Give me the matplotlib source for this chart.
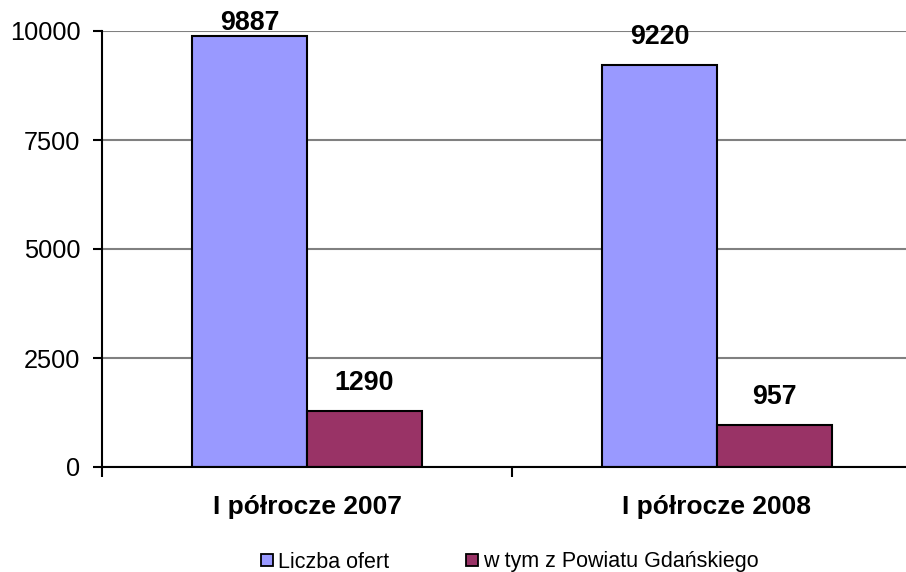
import matplotlib
matplotlib.use("Agg")
import matplotlib.pyplot as plt
from matplotlib.lines import Line2D
import numpy as np

categories = ["I półrocze 2007", "I półrocze 2008"]
series_names = ["Liczba ofert", "w tym z Powiatu Gdańskiego"]
liczba_ofert = [9887, 9220]
powiat = [1290, 957]
yticks = [0, 2500, 5000, 7500, 10000]
colors = ["#9999FF", "#993366"]

plt.rcParams['font.family'] = ['Liberation Sans', 'DejaVu Sans']

fig = plt.figure(figsize=(9.06, 5.72), dpi=100)
W, H = 906, 572
ax = fig.add_axes([102 / W, (H - 467) / H, 820 / W, 436 / H])

x = np.arange(len(categories))
bw = 0.28
for i, (vals, c) in enumerate(zip([liczba_ofert, powiat], colors)):
    pos = x + (i - 0.5) * bw
    ax.bar(pos, vals, width=bw, color=c, edgecolor="black", linewidth=1.5, zorder=3)
    for p, v in zip(pos, vals):
        ly = min(v + 640, 10183)
        ax.text(p, ly, f"{v}", ha="center", va="center", fontsize=19.3, fontweight="bold", zorder=4)

ax.set_xlim(-0.5, 1.5)
ax.set_ylim(0, 10000)
ax.set_yticks(yticks)
ax.set_yticklabels([str(t) for t in yticks])
ax.yaxis.grid(True, color="#808080", linewidth=1.5, zorder=0)
ax.set_axisbelow(True)

ax.set_xticks([-0.5, 0.5, 1.5])
ax.set_xticklabels([])
ax.set_xticks(x, minor=True)
ax.set_xticklabels(categories, minor=True, fontsize=19, fontweight="bold")
ax.tick_params(axis="x", which="minor", length=0, pad=20)
ax.tick_params(axis="x", which="major", length=7, width=1.5, direction="out")
ax.tick_params(axis="y", length=6.5, width=1.5, pad=9, labelsize=18.3)

for s in ["top", "right"]:
    ax.spines[s].set_visible(False)
for s in ["left", "bottom"]:
    ax.spines[s].set_linewidth(1.5)
    ax.spines[s].set_zorder(5)

handles = [Line2D([], [], marker="s", linestyle="none", markersize=9,
                  markerfacecolor=c, markeredgecolor="black", markeredgewidth=1.3)
           for c in colors]
fig.legend(handles, series_names, loc="center", bbox_to_anchor=(510 / W, 1 - 562 / H),
           ncol=2, frameon=False, fontsize=15.5, handlelength=0.55, handletextpad=0.22,
           columnspacing=3.6, borderpad=0, borderaxespad=0)

fig.savefig("out.png", dpi=100)
